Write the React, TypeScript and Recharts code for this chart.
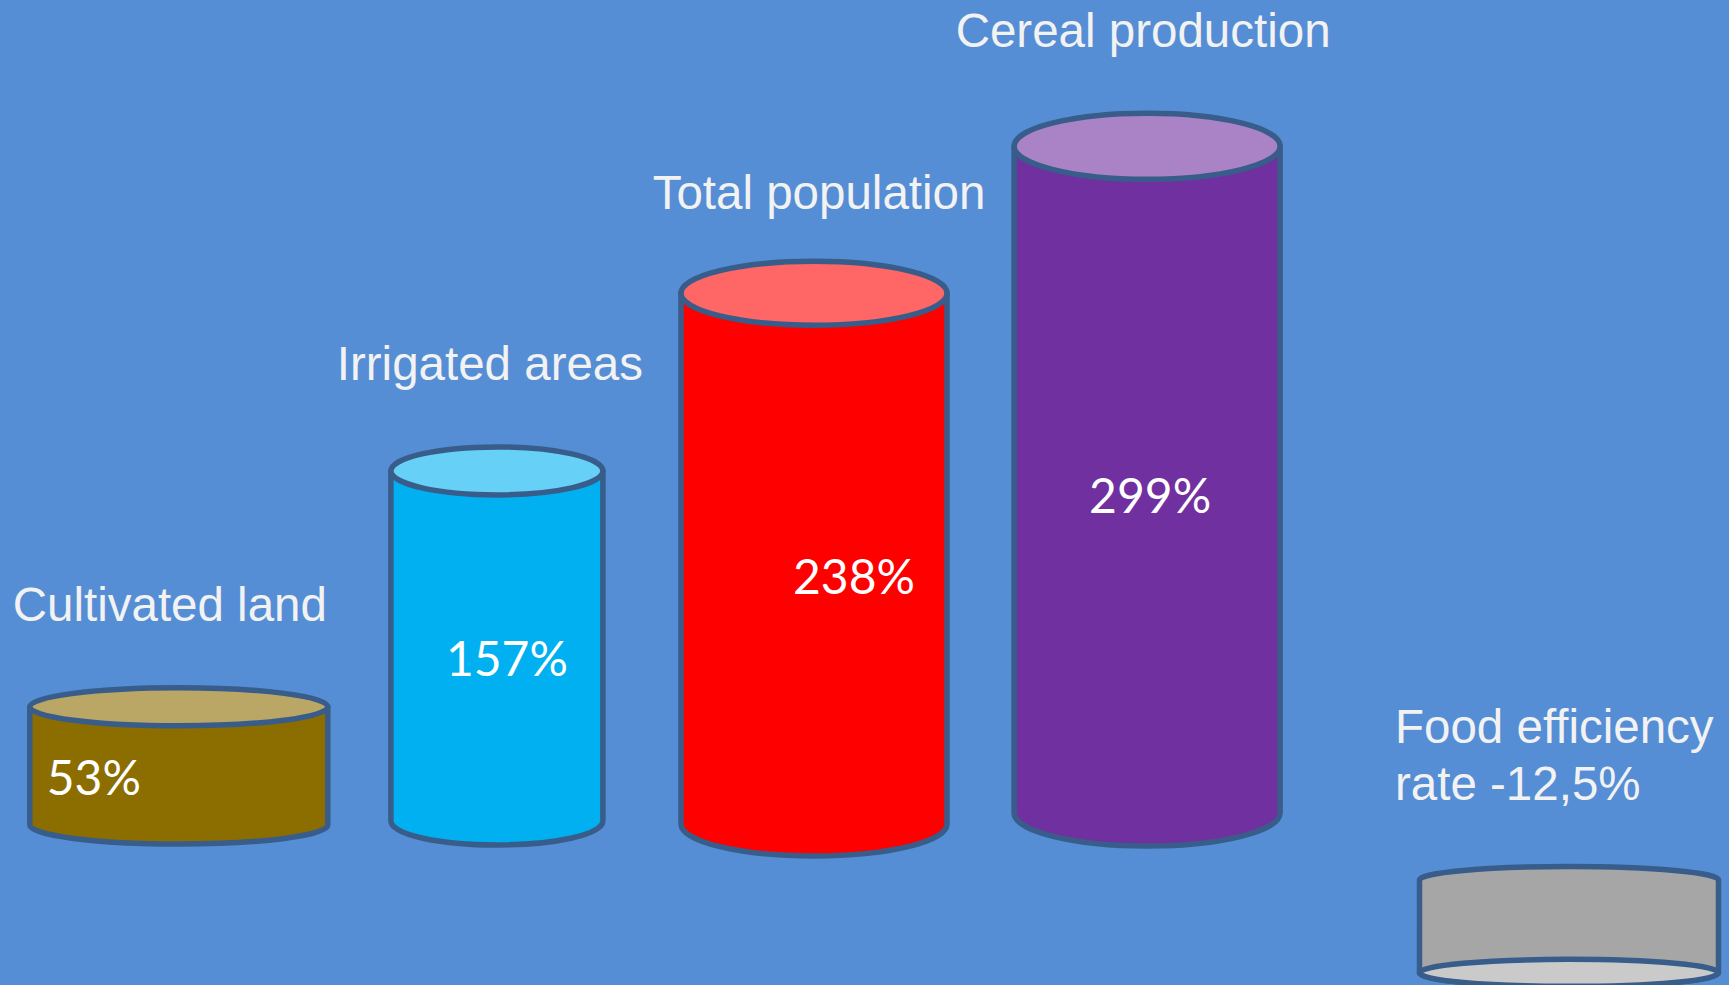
import React from 'react'
import { BarChart, Bar, XAxis, YAxis, LabelList } from 'recharts'

const categories = ['Cultivated land', 'Irrigated areas', 'Total population', 'Cereal production']
const growth = [53, 157, 238, 299]

const lossCategories = ['Food efficiency rate']
const lossValues = [-12.5]

const growthData = categories.map((name, i) => ({ name, value: growth[i] }))
const lossData = lossCategories.map((name, i) => ({ name, value: lossValues[i] }))

const fmt = (v: number) => `${String(v).replace('.', ',')}%`

const BG = '#558ED5'
const OUTLINE = '#385D8A'
const NAME_FONT = "'Liberation Sans', Arial, sans-serif"
const VALUE_FONT = "Lato, 'Open Sans', sans-serif"

// look of each cylinder, same order as categories (sx/sy = small drawing nudge)
const looks = [
  { w: 298, ry: 19, body: '#8C6D00', cap: '#BAA766', sx: 3, sy: 5, nameDx: -6, nameDy: -81, valDx: -82, valAt: 0.79 },
  { w: 212, ry: 24, body: '#00B0F0', cap: '#66D0F6', sx: -1, sy: 1, nameDx: -8, nameDy: -90, valDx: 9, valAt: 0.59 },
  { w: 266, ry: 32, body: '#FF0000', cap: '#FF6666', sx: -6, sy: 4, nameDx: -1, nameDy: -80, valDx: 34, valAt: 0.574 },
  { w: 266, ry: 33, body: '#7030A0', cap: '#A983C6', sx: 5, sy: -7, nameDx: 1, nameDy: -106, valDx: 8, valAt: 0.54 },
]
const lossLooks = [{ w: 299, ry: 13.5, body: '#A6A6A6', cap: '#CACACA', sx: 0, sy: 0, nameDx: -174, nameDy: -137, lineGap: 57 }]

const box = (p: any) => {
  const vb = p.viewBox && p.viewBox.width !== undefined ? p.viewBox : p
  const x = Number(vb.x)
  const y = Number(vb.y)
  const w = Number(vb.width)
  const h = Number(vb.height)
  return { cx: x + w / 2, top: Math.min(y, y + h), bottom: Math.max(y, y + h) }
}

const Cylinder = (props: any) => {
  const { look, value } = props
  const b = box(props)
  const cx = b.cx + look.sx
  const top = b.top + look.sy
  const bottom = b.bottom + look.sy
  const rx = look.w / 2
  const l = cx - rx
  const r = cx + rx
  const ry = look.ry
  const v = Array.isArray(value) ? value[1] - value[0] : value
  if (v < 0) {
    // hanging cylinder: rim arc on top, lighter face at the bottom
    return (
      <g stroke={OUTLINE} strokeWidth={5.5} strokeLinejoin="round">
        <path
          d={`M${l},${top} A${rx},${ry} 0 0 1 ${r},${top} L${r},${bottom} A${rx},${ry} 0 0 1 ${l},${bottom} Z`}
          fill={look.body}
        />
        <ellipse cx={cx} cy={bottom} rx={rx} ry={ry} fill={look.cap} />
      </g>
    )
  }
  return (
    <g stroke={OUTLINE} strokeWidth={5.5} strokeLinejoin="round">
      <path
        d={`M${l},${top} L${l},${bottom} A${rx},${ry} 0 0 0 ${r},${bottom} L${r},${top} Z`}
        fill={look.body}
      />
      <ellipse cx={cx} cy={top} rx={rx} ry={ry} fill={look.cap} />
    </g>
  )
}

const renderName = (p: any) => {
  const look = looks[p.index]
  const { cx, top } = box(p)
  return (
    <text x={cx + look.nameDx} y={top + look.nameDy} textAnchor="middle" fontFamily={NAME_FONT} fontSize={47.5} fill="#F2F2F2">
      {p.value}
    </text>
  )
}

const renderValue = (p: any) => {
  const look = looks[p.index]
  const { cx, top, bottom } = box(p)
  return (
    <text x={cx + look.valDx} y={top + (bottom - top) * look.valAt} textAnchor="middle" fontFamily={VALUE_FONT} fontSize={48} fill="#FFFFFF">
      {fmt(Number(p.value))}
    </text>
  )
}

const renderLossLabel = (p: any) => {
  const look = lossLooks[p.index]
  const { cx, top } = box(p)
  const entry = lossData[p.index]
  const words = entry.name.split(' ')
  const first = words.slice(0, -1).join(' ')
  const second = `${words[words.length - 1]} ${fmt(entry.value)}`
  const x = cx + look.nameDx
  const y = top + look.nameDy
  return (
    <text fontFamily={NAME_FONT} fontSize={47.5} fill="#F2F2F2">
      <tspan x={x} y={y}>{first}</tspan>
      <tspan x={x} y={y + look.lineGap}>{second}</tspan>
    </text>
  )
}

export default function App() {
  return (
    <div style={{ position: 'fixed', left: 0, top: 0, width: 1729, height: 985, background: BG, overflow: 'hidden' }}>
      <div style={{ position: 'absolute', left: 0, top: 0 }}>
        <BarChart width={1729} height={985} data={growthData} margin={{ top: 39.5, right: 426, bottom: 165, left: 14.6 }}>
          <XAxis dataKey="name" hide />
          <YAxis hide domain={[0, 350]} />
          <Bar
            dataKey="value"
            isAnimationActive={false}
            shape={(p: any) => <Cylinder {...p} look={looks[p.index]} />}
          >
            <LabelList dataKey="name" content={renderName} />
            <LabelList dataKey="value" content={renderValue} />
          </Bar>
        </BarChart>
      </div>
      <div style={{ position: 'absolute', left: 0, top: 0 }}>
        <BarChart width={1729} height={985} data={lossData} margin={{ top: 880, right: 10, bottom: 1, left: 1419 }}>
          <XAxis dataKey="name" hide />
          <YAxis hide domain={[-14, 0]} />
          <Bar
            dataKey="value"
            isAnimationActive={false}
            shape={(p: any) => <Cylinder {...p} look={lossLooks[p.index]} />}
          >
            <LabelList dataKey="value" content={renderLossLabel} />
          </Bar>
        </BarChart>
      </div>
    </div>
  )
}
